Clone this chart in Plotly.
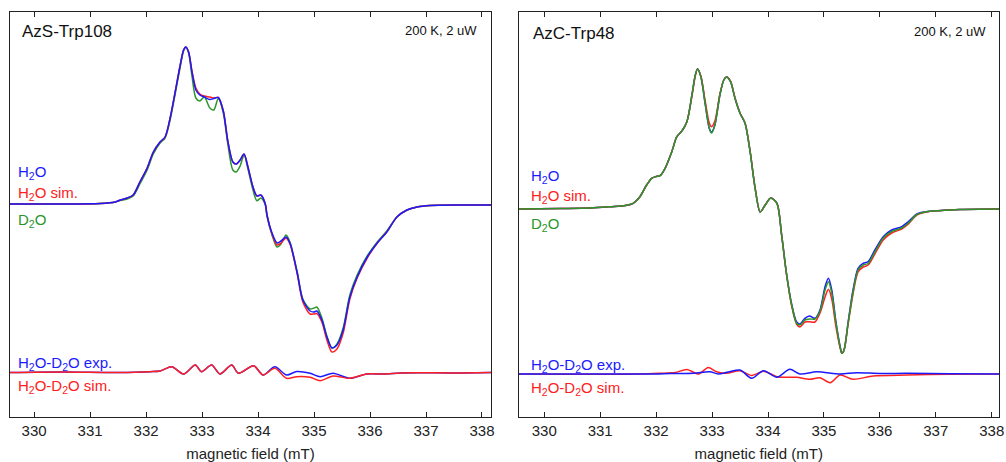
import plotly.graph_objects as go

# ---------------- data: left panel (AzS-Trp108) ----------------
field_L = [329.57, 330.46, 331.18, 331.45, 331.54, 331.66, 331.77, 331.89, 332.02, 332.13,
           332.25, 332.34, 332.43, 332.52, 332.61, 332.67, 332.71, 332.76, 332.82, 332.89,
           332.96, 333.04, 333.14, 333.21, 333.29, 333.38, 333.46, 333.55, 333.61, 333.68,
           333.75, 333.82, 333.91, 333.98, 334.05, 334.13, 334.16, 334.25, 334.34, 334.41,
           334.50, 334.57, 334.70, 334.80, 334.93, 335.00, 335.05, 335.14, 335.23, 335.32,
           335.41, 335.52, 335.64, 335.77, 335.95, 336.13, 336.30, 336.48, 336.66, 336.84,
           337.07, 337.61, 338.16]
h2o_L = [0, 0, 0.5, 2, 4, 6, 9, 22, 36, 52,
         62, 67, 86, 112, 139, 154, 157, 152, 132, 114,
         109, 107, 104.5, 105.5, 106.5, 93, 63, 42, 40, 44,
         50, 37, 17, 8, 9, 0, -11, -29, -39, -37,
         -33, -39, -69, -96, -107, -108, -107, -116, -133, -144,
         -141, -126, -93, -73, -53, -39, -28, -13, -6, -3,
         -1.5, -1, -1]
h2o_sim_L = [0, 0, 0.5, 2, 4, 6, 9, 22, 36, 52,
             62, 67, 86, 112, 139, 154, 157, 152, 133, 116,
             110, 108, 107, 106, 106.5, 93, 63, 42, 40, 44,
             50, 37, 17, 8, 9, 0, -11, -30, -41, -39,
             -34, -40, -70, -98, -110, -110, -109.5, -118, -136, -148,
             -145, -129, -95, -74, -54, -39, -28, -13, -6, -3,
             -1.5, -1, -1]
d2o_L = [0, 0, 0.5, 2, 3.5, 5, 8, 20, 34, 50,
         61, 66, 84, 110, 137, 153, 157, 151, 128, 106,
         103, 107, 96, 94, 105.5, 91, 60, 34, 32, 38,
         49, 35, 14, 3.3, 6, -1, -12, -31, -43, -40,
         -31, -38, -68, -95, -105, -104, -103, -114, -132, -144,
         -140, -124, -91, -71, -52, -38, -27, -13, -6, -3,
         -1.5, -1, -1]

dfield_L = [329.57, 330.50, 331.50, 332.07, 332.25, 332.46, 332.67, 332.88, 332.99, 333.17,
            333.32, 333.53, 333.65, 333.92, 334.09, 334.30, 334.51, 334.69, 334.93, 335.11,
            335.34, 335.64, 335.94, 336.24, 336.54, 336.83, 337.43, 338.16]
diff_exp_L = [0, 0.5, 0, 0.8, 1.5, 5.8, -1.5, 7.5, 0.8, 7.5,
              -1.5, 7.5, -0.8, 6.8, -2.5, 5.8, -2.5, 1.0, -0.8, -4.2,
              -0.8, -5.8, -1.5, -1.5, -0.5, -0.2, -0.5, 0]
diff_sim_L = [0, 0.5, 0, 0.8, 1.5, 5.8, -1.5, 7.5, 0.8, 7.5,
              -1.5, 7.5, -0.8, 6.8, -2.5, 4.2, -5.8, -4.2, -4.8, -8.2,
              -3.5, -5.8, -1.5, -1.5, -0.5, -0.2, -0.5, 0]

# ---------------- data: right panel (AzC-Trp48) ----------------
field_R = [329.54, 330.29, 330.82, 331.18, 331.45, 331.59, 331.71, 331.83, 331.92, 332.00,
           332.07, 332.16, 332.28, 332.37, 332.46, 332.55, 332.64, 332.70, 332.74, 332.80,
           332.88, 332.95, 332.99, 333.05, 333.14, 333.21, 333.26, 333.33, 333.41, 333.50,
           333.59, 333.68, 333.77, 333.86, 333.95, 334.05, 334.16, 334.24, 334.33, 334.42,
           334.51, 334.57, 334.66, 334.74, 334.84, 334.93, 335.02, 335.08, 335.14, 335.21,
           335.29, 335.32, 335.36, 335.43, 335.52, 335.61, 335.70, 335.79, 335.91, 336.06,
           336.21, 336.39, 336.51, 336.66, 336.83, 337.04, 337.43, 338.13]
h2o_R = [0, 0.5, 1, 2.3, 3.5, 5.7, 12.3, 24, 30.7, 32.5,
         33.3, 40.7, 57.3, 72.3, 78, 87.3, 114, 134, 140, 132.3,
         104, 80.7, 76.7, 84, 114, 129, 132, 127.3, 110.7, 95.7,
         85.7, 57.3, 20.7, -3, 4, 11, 5.7, -24.3, -64.3, -94.3,
         -112.7, -115, -109.3, -107, -109.3, -101, -77.7, -69.3, -81, -111,
         -137.7, -144.3, -141, -114.3, -81, -59.3, -54.3, -52.7, -41, -27.7,
         -21, -17.7, -12.7, -5, -2.7, -1.7, -0.5, 0]
h2o_sim_R = [0, 0.5, 1, 2.3, 3.5, 5.7, 12.3, 24, 30.7, 32.5,
             33.3, 40.7, 57.3, 72.3, 78, 87.3, 113, 133, 140, 133,
             107, 86, 82.3, 88, 115, 129, 132, 128, 111, 96,
             86, 58, 21, -3, 4, 11, 5.7, -24.3, -65, -96,
             -115, -118, -113, -112.7, -113, -104, -88, -80.3, -90, -116,
             -139, -144.3, -141, -116, -85, -63, -58, -56, -45, -31,
             -24, -20, -15, -6, -3, -1.7, -0.5, 0]
d2o_R = [0, 0.5, 1, 2.3, 3.5, 5.7, 12.3, 24, 30.7, 32.5,
         33.3, 40.7, 57.3, 72.3, 78, 87.3, 114, 134, 140, 132.3,
         104, 80.7, 76, 84, 114, 129, 132, 127.3, 110.7, 95.7,
         85.7, 57.3, 20.7, -3, 4, 11, 5.7, -24.3, -64.3, -95,
         -114, -116, -111, -110, -110, -102, -81, -72.7, -84, -112,
         -138, -144.3, -141, -115, -83, -61, -56, -54.5, -43, -29,
         -22.5, -19, -14, -5.5, -2.7, -1.7, -0.5, 0]

dfield_R_exp = [329.54, 331.00, 332.00, 332.25, 332.67, 332.96, 333.11, 333.29, 333.50, 333.71,
                333.92, 334.16, 334.39, 334.57, 334.87, 335.29, 335.58, 336.00, 336.48, 337.25,
                338.13]
diff_exp_R = [0, 0, 0, 0.5, 0.7, 2.3, 0, 2, 4, -4.3,
              3.3, -3.3, 4.7, 0, 2.3, 0, 1.3, 0.5, 0.7, 0.3,
              0]
dfield_R_sim = [329.54, 331.71, 332.07, 332.34, 332.55, 332.76, 332.93, 333.08, 333.26, 333.50,
                333.71, 333.92, 334.16, 334.51, 334.75, 334.93, 335.11, 335.29, 335.52, 335.88,
                336.48, 337.25, 338.13]
diff_sim_R = [0, 0, 0.7, 1.5, 4.5, 0, 6.5, 2.3, 0.7, 3.3,
              -1.5, 2.7, -2.7, -3.3, -5.3, -3.7, -8.7, -1, -5.3, -2,
              -1, -0.3, 0]

tick_vals = [330, 331, 332, 333, 334, 335, 336, 337, 338]

# ---------------- styling ----------------
BLUE = "#1a1aff"
RED = "#ff2020"
GREEN = "#2a962a"
FONT = "Liberation Sans, Arial, sans-serif"
OFF_L = -168.5   # vertical offset of difference traces (left)
OFF_R = -165.0   # vertical offset of difference traces (right)

fig = go.Figure()

def add(x, y, color, xa, ya, off=0.0):
    fig.add_trace(go.Scatter(
        x=x, y=[v + off for v in y], mode="lines",
        line=dict(color=color, width=1.5, shape="spline", smoothing=0.8),
        xaxis=xa, yaxis=ya, showlegend=False, hoverinfo="skip"))

# left panel
add(field_L, d2o_L, GREEN, "x", "y")
add(field_L, h2o_sim_L, RED, "x", "y")
add(field_L, h2o_L, BLUE, "x", "y")
add(dfield_L, diff_exp_L, BLUE, "x", "y", OFF_L)
add(dfield_L, diff_sim_L, RED, "x", "y", OFF_L)
# right panel
add(field_R, h2o_R, BLUE, "x2", "y2")
add(field_R, h2o_sim_R, RED, "x2", "y2")
add(field_R, d2o_R, GREEN, "x2", "y2")
add(dfield_R_sim, diff_sim_R, RED, "x2", "y2", OFF_R)
add(dfield_R_exp, diff_exp_R, BLUE, "x2", "y2", OFF_R)

xcommon = dict(
    tickvals=tick_vals, ticks="inside", ticklen=5, tickwidth=1, tickcolor="#222",
    showline=True, linecolor="#222", linewidth=1.3, mirror="ticks",
    showgrid=False, zeroline=False,
    tickfont=dict(family=FONT, size=15, color="#222"),
    title=dict(text="magnetic field (mT)", font=dict(family=FONT, size=15, color="#222"), standoff=10),
    automargin=False,
)
ycommon = dict(showline=True, linecolor="#222", linewidth=1.3, mirror=True,
               showticklabels=False, ticks="", showgrid=False, zeroline=False)

fig.update_layout(
    width=1006, height=462,
    margin=dict(l=10, r=7, t=12, b=45),
    paper_bgcolor="white", plot_bgcolor="white",
    xaxis=dict(domain=[0, 0.4863], range=[329.57, 338.16], anchor="y", **xcommon),
    xaxis2=dict(domain=[0.5142, 1.0], range=[329.54, 338.13], anchor="y2", **xcommon),
    yaxis=dict(domain=[0, 1], range=[-213, 192], anchor="x", **ycommon),
    yaxis2=dict(domain=[0, 1], range=[-208, 197], anchor="x2", **ycommon),
)

def label(text, xref, yref, x, y, color, size, xanchor="left"):
    fig.add_annotation(text=text, xref=xref, yref=yref, x=x, y=y, showarrow=False,
                       xanchor=xanchor, yanchor="middle",
                       font=dict(family=FONT, size=size, color=color))

# left panel texts
label("AzS-Trp108", "x domain", "y domain", 0.021, 0.951, "#111", 17)
label("200 K, 2 uW", "x domain", "y domain", 0.975, 0.955, "#111", 13, "right")
label("H<sub>2</sub>O", "x domain", "y domain", 0.012, 0.603, BLUE, 15)
label("H<sub>2</sub>O sim.", "x domain", "y domain", 0.012, 0.553, RED, 15)
label("D<sub>2</sub>O", "x domain", "y domain", 0.012, 0.484, GREEN, 15)
label("H<sub>2</sub>O-D<sub>2</sub>O exp.", "x domain", "y domain", 0.012, 0.132, BLUE, 15)
label("H<sub>2</sub>O-D<sub>2</sub>O sim.", "x domain", "y domain", 0.012, 0.075, RED, 15)

# right panel texts
label("AzC-Trp48", "x2 domain", "y2 domain", 0.026, 0.946, "#111", 17)
label("200 K, 2 uW", "x2 domain", "y2 domain", 0.978, 0.951, "#111", 13, "right")
label("H<sub>2</sub>O", "x2 domain", "y2 domain", 0.022, 0.593, BLUE, 15)
label("H<sub>2</sub>O sim.", "x2 domain", "y2 domain", 0.022, 0.545, RED, 15)
label("D<sub>2</sub>O", "x2 domain", "y2 domain", 0.022, 0.475, GREEN, 15)
label("H<sub>2</sub>O-D<sub>2</sub>O exp.", "x2 domain", "y2 domain", 0.022, 0.128, BLUE, 15)
label("H<sub>2</sub>O-D<sub>2</sub>O sim.", "x2 domain", "y2 domain", 0.022, 0.070, RED, 15)

# the page body has a default 8px margin; remove it so the figure sits at the window origin
fig.write_html("out.html", config={"displayModeBar": False},
               post_script="document.body.style.margin='0';")
